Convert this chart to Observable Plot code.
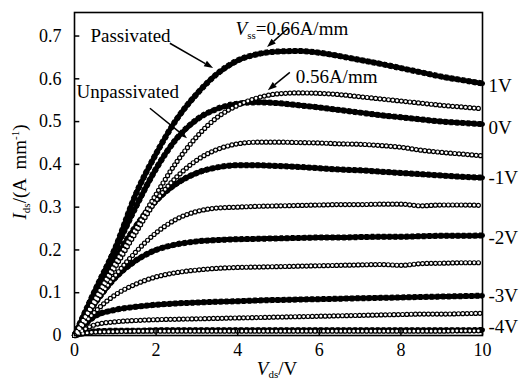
<!DOCTYPE html>
<html><head><meta charset="utf-8">
<script src="https://cdn.jsdelivr.net/npm/d3@7"></script>
<script src="https://cdn.jsdelivr.net/npm/@observablehq/plot@0.6"></script>
<style>body{margin:0;background:#fff} svg{display:block}</style>
</head><body><div id="chart"></div>
<script>
// Drain-source voltage grid (V)
const vds = [0,0.5,1,1.5,2,2.5,3,3.5,4,4.5,5,5.5,6,6.5,7,7.5,8,8.5,9,9.5,10];
// Passivated (filled squares), Ids in A/mm, Vgs = 1 .. -4 V
const pas_1V  = [0,0.105,0.205,0.33,0.425,0.505,0.565,0.612,0.643,0.658,0.664,0.665,0.661,0.653,0.644,0.635,0.625,0.615,0.605,0.597,0.589];
const pas_0V  = [0,0.10,0.20,0.30,0.39,0.46,0.505,0.53,0.542,0.545,0.543,0.538,0.533,0.527,0.521,0.515,0.51,0.505,0.50,0.497,0.494];
const pas_m1V = [0,0.095,0.18,0.255,0.315,0.355,0.38,0.393,0.398,0.398,0.396,0.394,0.391,0.388,0.386,0.383,0.38,0.377,0.374,0.371,0.369];
const pas_m2V = [0,0.075,0.135,0.175,0.20,0.213,0.22,0.223,0.225,0.226,0.227,0.228,0.229,0.229,0.23,0.231,0.231,0.232,0.233,0.233,0.234];
const pas_m3V = [0,0.045,0.06,0.067,0.072,0.075,0.077,0.079,0.08,0.082,0.083,0.084,0.085,0.086,0.087,0.088,0.089,0.09,0.091,0.092,0.093];
const pas_m4V = [0,0.010,0.011,0.011,0.012,0.012,0.012,0.012,0.012,0.012,0.012,0.012,0.012,0.012,0.012,0.012,0.012,0.012,0.012,0.012,0.013];
// Unpassivated (open circles)
const unp_1V  = [0,0.085,0.17,0.25,0.33,0.405,0.465,0.51,0.538,0.556,0.565,0.567,0.566,0.563,0.558,0.553,0.548,0.543,0.538,0.534,0.53];
const unp_0V  = [0,0.08,0.16,0.24,0.315,0.37,0.41,0.435,0.448,0.452,0.452,0.451,0.45,0.448,0.447,0.444,0.44,0.433,0.428,0.424,0.42];
const unp_m1V = [0,0.075,0.14,0.195,0.24,0.272,0.29,0.298,0.30,0.302,0.303,0.304,0.305,0.306,0.306,0.307,0.307,0.303,0.305,0.305,0.304];
const unp_m2V = [0,0.055,0.095,0.12,0.137,0.147,0.153,0.157,0.159,0.16,0.161,0.162,0.163,0.164,0.165,0.166,0.164,0.168,0.169,0.17,0.17];
const unp_m3V = [0,0.025,0.032,0.035,0.037,0.038,0.039,0.04,0.041,0.042,0.043,0.044,0.045,0.046,0.047,0.048,0.049,0.05,0.05,0.051,0.052];
const unp_m4V = [0,0.008,0.009,0.01,0.01,0.01,0.01,0.01,0.01,0.01,0.01,0.01,0.01,0.01,0.01,0.01,0.01,0.01,0.01,0.011,0.011];
// Gate-voltage labels on the right and where they sit (A/mm)
const gateLabels = ["1V","0V","-1V","-2V","-3V","-4V"];
const gateLabelIds = [0.570,0.47,0.355,0.215,0.078,0.005];
// Ticks
const xTicks = [0,2,4,6,8,10];
const yTicks = [0,0.1,0.2,0.3,0.4,0.5,0.6,0.7];

const toRows = (series, name) => vds.map((v,i) => ({vds: v, ids: series[i], curve: name}));
const pasRows = [].concat(
  toRows(pas_1V,"1V"), toRows(pas_0V,"0V"), toRows(pas_m1V,"-1V"),
  toRows(pas_m2V,"-2V"), toRows(pas_m3V,"-3V"), toRows(pas_m4V,"-4V"));
const unpRows = [].concat(
  toRows(unp_1V,"1V"), toRows(unp_0V,"0V"), toRows(unp_m1V,"-1V"),
  toRows(unp_m2V,"-2V"), toRows(unp_m3V,"-3V"), toRows(unp_m4V,"-4V"));
const labelRows = gateLabels.map((t,i) => ({t, ids: gateLabelIds[i]}));

const FONT = "'Liberation Serif','Times New Roman',serif";

const chart = Plot.plot({
  width: 525, height: 383,
  marginLeft: 74, marginRight: 43, marginTop: 12, marginBottom: 48,
  x: {domain: [0, 10]},
  y: {domain: [0, 0.755]},
  style: {fontFamily: FONT, background: "white", color: "black"},
  marks: [
    Plot.line(pasRows, {x: "vds", y: "ids", z: "curve", stroke: "black", strokeWidth: 5, curve: "monotone-x"}),
    Plot.line(pasRows, {x: "vds", y: "ids", z: "curve", stroke: "black", strokeWidth: 6, strokeDasharray: "3.5 2.2", strokeLinecap: "butt", curve: "monotone-x"}),
    Plot.line(unpRows, {x: "vds", y: "ids", z: "curve", stroke: "black", strokeWidth: 5.2, strokeDasharray: "0 4.3", strokeLinecap: "round", curve: "monotone-x"}),
    Plot.line(unpRows, {x: "vds", y: "ids", z: "curve", stroke: "white", strokeWidth: 2.8, strokeDasharray: "0 4.3", strokeLinecap: "round", curve: "monotone-x"}),
    Plot.ruleY(yTicks, {x1: 0, x2: 0.13, stroke: "black", strokeWidth: 1.5}),
    Plot.ruleX(xTicks, {y1: 0, y2: 0.012, stroke: "black", strokeWidth: 1.5}),
    Plot.frame({stroke: "black", strokeWidth: 1.6}),
    Plot.axisY({ticks: yTicks, tickSize: 0, tickPadding: 13, fontSize: 18, label: null,
      tickFormat: d => d === 0 ? "0" : d.toFixed(1)}),
    Plot.axisX({ticks: xTicks, tickSize: 0, tickPadding: 8, fontSize: 18, label: null}),
    Plot.text(labelRows, {x: () => 10, y: "ids", text: "t", dx: 6, textAnchor: "start", lineAnchor: "bottom", fontSize: 19, fill: "black"}),
    Plot.text(["Passivated"], {x: 0.39, y: 0.685, textAnchor: "start", lineAnchor: "bottom", fontSize: 19, fill: "black"}),
    Plot.text(["Unpassivated"], {x: 0.05, y: 0.556, textAnchor: "start", lineAnchor: "bottom", fontSize: 19, fill: "black"}),
    Plot.text(["0.56A/mm"], {x: 5.42, y: 0.591, textAnchor: "start", lineAnchor: "bottom", fontSize: 19, fill: "black"})
  ]
});
document.getElementById("chart").appendChild(chart);

const svg = d3.select(chart);
const sx = chart.scale("x").apply, sy = chart.scale("y").apply;

// Arrows (shaft + filled head)
const arrows = [
  [2.35, 0.682, 3.41, 0.624],
  [1.86, 0.530, 2.77, 0.460],
  [5.25, 0.717, 4.73, 0.673],
  [5.29, 0.614, 4.75, 0.572]
];
const ag = svg.append("g");
for (const [a, b, c, d] of arrows) {
  const x1 = sx(a), y1 = sy(b), x2 = sx(c), y2 = sy(d);
  const ang = Math.atan2(y2 - y1, x2 - x1), L = 9, W = 3.2;
  const bx = x2 - L * Math.cos(ang), by = y2 - L * Math.sin(ang);
  ag.append("line").attr("x1", x1).attr("y1", y1).attr("x2", bx).attr("y2", by)
    .attr("stroke", "black").attr("stroke-width", 1.5);
  ag.append("path").attr("d",
    `M${x2},${y2}L${bx - W * Math.sin(ang)},${by + W * Math.cos(ang)}L${bx + W * Math.sin(ang)},${by - W * Math.cos(ang)}Z`)
    .attr("fill", "black");
}

// Rich text: V_ss annotation
const t1 = svg.append("text").attr("x", sx(5.34)).attr("y", sy(0.701))
  .attr("font-family", FONT).attr("font-size", 19).attr("fill", "black");
t1.append("tspan").attr("font-style", "italic").text("V");
t1.append("tspan").attr("font-size", 11).attr("dy", 4).text("ss");
t1.append("tspan").attr("dy", -4).text("=0.66A/mm");

// Axis titles
const xl = svg.append("text").attr("x", 277).attr("y", 375).attr("text-anchor", "middle")
  .attr("font-family", FONT).attr("font-size", 19).attr("fill", "black");
xl.append("tspan").attr("font-style", "italic").text("V");
xl.append("tspan").attr("font-size", 11).attr("dy", 3).text("ds");
xl.append("tspan").attr("dy", -3).text("/V");

const yl = svg.append("text").attr("transform", "translate(26,172) rotate(-90)").attr("text-anchor", "middle")
  .attr("font-family", FONT).attr("font-size", 19).attr("fill", "black");
yl.append("tspan").attr("font-style", "italic").text("I");
yl.append("tspan").attr("font-size", 11).attr("dy", 4).text("ds");
yl.append("tspan").attr("dy", -4).text("/(A  mm");
yl.append("tspan").attr("font-size", 11).attr("dy", -7).text("-1");
yl.append("tspan").attr("dy", 7).text(")");
</script>
</body></html>
